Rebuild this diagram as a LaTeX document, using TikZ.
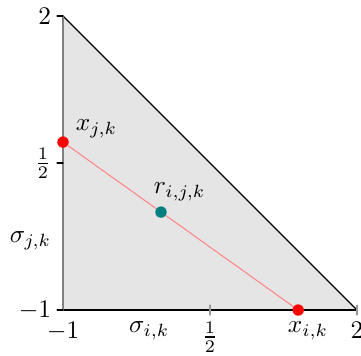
\documentclass[tikz,border=0pt]{standalone}
\usepackage{tikz}
\usetikzlibrary{positioning}
\tikzset{
  every picture/.style={line cap=round, line join=round},
  region/.style={fill=black!10, draw=none},
  edge/.style={black, line width=0.5pt},
  vaxis/.style={black!50, line width=0.9pt},
  haxis/.style={black, line width=0.6pt},
  tickmark/.style={line width=0.5pt},
  pt/.style={circle, inner sep=0pt, minimum size=4.5pt},
}
\begin{document}
\begin{tikzpicture}[x=1.36cm, y=1.36cm,
  seg/.style={red!45, line width=0.45pt},
  lbl/.style={font=\normalsize},
]
\useasboundingbox (-1.643,-1.459) rectangle (2.041,2.164);
% ------------------------------------------------------------- region
\coordinate (O) at (-1,-1);
\coordinate (A) at (2,-1);
\coordinate (B) at (-1,2);
\fill[region] (O) -- (A) -- (B) -- cycle;
\draw[edge] (A) -- (B);
\draw[haxis] (O) -- (A);
\draw[vaxis] (O) -- (B);
% ------------------------------------------------------------- ticks
\foreach \y/\t in {-1/$-1$, 0.5/$\frac{1}{2}$, 2/$2$} {
  \draw[tickmark] (-1.06,\y) -- (-1,\y);
  \node[lbl, left=0pt] (yt\y) at (-1.03,\y) {\t};
}
\foreach \x in {0.5, 2}
  \draw[tickmark, black!40] (\x,-1.05) -- (\x,-0.95);
\foreach \x/\t in {-1/$-1$, 0.5/$\frac{1}{2}$, 2/$2$}
  \node[lbl, below=0pt] (xt\x) at (\x,-1.03) {\t};
\node[lbl, below=0pt] (sik) at (-0.12,-1.03) {$\sigma_{i,k}$};
\node[lbl, left=0pt] (sjk) at (-1.03,-0.29) {$\sigma_{j,k}$};
% ------------------------------------------------------------- points
\node[pt, fill=red] (xj) at (-1,0.714) {};
\node[pt, fill=red] (xi) at (1.4,-1) {};
\draw[seg] (xj) -- (xi);
\node[pt, fill=teal] (r) at (0,0) {};
\node[lbl, above right=-2pt and 1.5pt] (xjl) at (xj) {$x_{j,k}$};
\node[lbl, below=0pt] (xil) at (1.5,-1.03) {$x_{i,k}$};
\node[lbl, above=1pt] (rl) at (0.19,0) {$r_{i,j,k}$};
\end{tikzpicture}
\end{document}
